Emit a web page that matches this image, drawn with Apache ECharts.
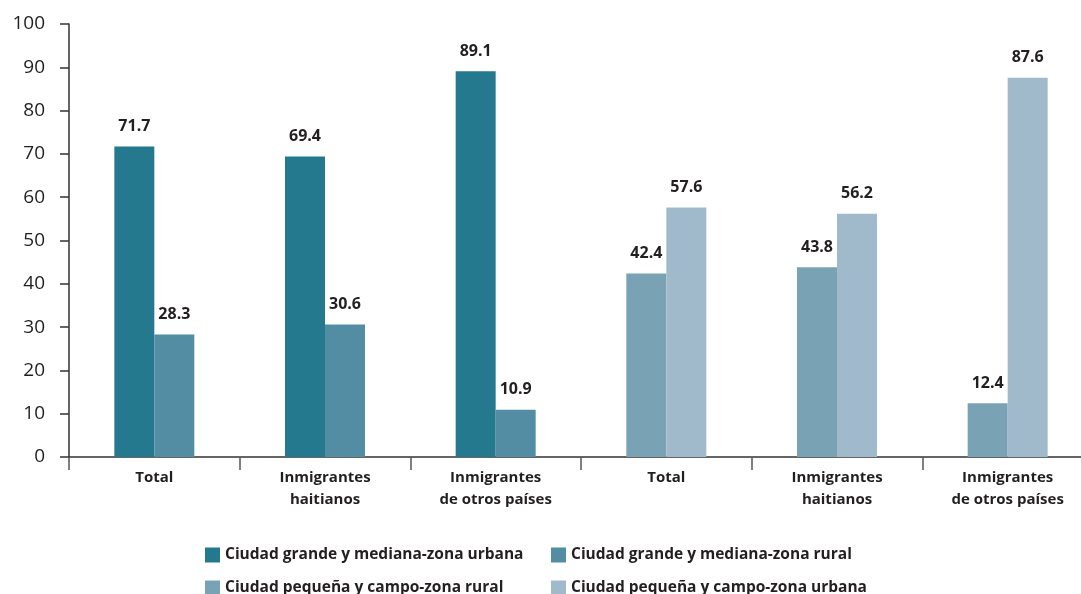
<!DOCTYPE html>
<html>
<head>
<meta charset="utf-8">
<script src="https://cdn.jsdelivr.net/npm/echarts@6/dist/echarts.min.js"></script>
<style>
	html, body { margin: 0; padding: 0; background: #fff; }
	#chart { width: 1081px; height: 594px; }
</style>
</head>
<body>
<div id="chart"></div>
<script>
/**
 * 数据
 * */
var categories = ['Total', 'Inmigrantes\nhaitianos', 'Inmigrantes\nde otros países',
	'Total', 'Inmigrantes\nhaitianos', 'Inmigrantes\nde otros países'];
var seriesNames = [
	'Ciudad grande y mediana-zona urbana',
	'Ciudad grande y mediana-zona rural',
	'Ciudad pequeña y campo-zona rural',
	'Ciudad pequeña y campo-zona urbana'
];
var grandeUrbana = [71.7, 69.4, 89.1, null, null, null];
var grandeRural = [28.3, 30.6, 10.9, null, null, null];
var pequenaRural = [null, null, null, 42.4, 43.8, 12.4];
var pequenaUrbana = [null, null, null, 57.6, 56.2, 87.6];
var yTicks = { min: 0, max: 100, interval: 10 };

var colors = ['#25798f', '#528da3', '#79a2b4', '#a0bacb'];
var font = '"Open Sans", "DejaVu Sans", sans-serif';

var chart = echarts.init(document.getElementById('chart'));

//公用的柱子设置
function bar(name, data, stack, color) {
	return {
		name: name,
		type: 'bar',
		stack: stack,
		data: data,
		barWidth: 40,
		barGap: '0%',
		itemStyle: { color: color },
		label: {
			show: true,
			position: 'top',
			distance: 12,
			color: '#231f20',
			fontFamily: font,
			fontWeight: 'bold',
			fontSize: 16,
			formatter: function(p) {
				return p.value == null ? '' : p.value.toFixed(1);
			}
		}
	};
}

//图例：每项单独定位（两列对齐）
var legendPos = [[205, 547], [551, 547], [205, 580], [551, 580]];
function legendItem(i) {
	return {
		left: legendPos[i][0],
		top: legendPos[i][1],
		padding: 0,
		itemWidth: 15,
		itemHeight: 15,
		icon: 'rect',
		data: [seriesNames[i]],
		textStyle: {
			color: '#231f20',
			fontFamily: font,
			fontWeight: 'bold',
			fontSize: 15.5
		}
	};
}

var option = {
	animation: false,
	backgroundColor: '#fff',
	grid: { left: 69, top: 24, bottom: 137, right: -12, outerBoundsMode: 'none' },
	legend: [legendItem(0), legendItem(1), legendItem(2), legendItem(3)],
	xAxis: {
		type: 'category',
		data: categories,
		axisLine: { lineStyle: { color: '#333', width: 1.5 } },
		axisTick: { show: true, length: 13, lineStyle: { color: '#555', width: 1.5 } },
		axisLabel: {
			margin: 10,
			interval: 0,
			color: '#231f20',
			fontFamily: font,
			fontWeight: 'bold',
			fontSize: 15,
			lineHeight: 22
		}
	},
	yAxis: {
		type: 'value',
		min: yTicks.min,
		max: yTicks.max,
		interval: yTicks.interval,
		splitLine: { show: false },
		axisLine: { show: true, lineStyle: { color: '#333', width: 1.5 } },
		axisTick: { show: true, length: 9, lineStyle: { color: '#333', width: 1.5 } },
		axisLabel: {
			margin: 24,
			color: '#231f20',
			fontFamily: font,
			fontWeight: 500,
			fontSize: 19
		}
	},
	series: [
		bar(seriesNames[0], grandeUrbana, 'izq', colors[0]),
		bar(seriesNames[1], grandeRural, 'der', colors[1]),
		bar(seriesNames[2], pequenaRural, 'izq', colors[2]),
		bar(seriesNames[3], pequenaUrbana, 'der', colors[3])
	]
};

chart.setOption(option);
</script>
</body>
</html>
